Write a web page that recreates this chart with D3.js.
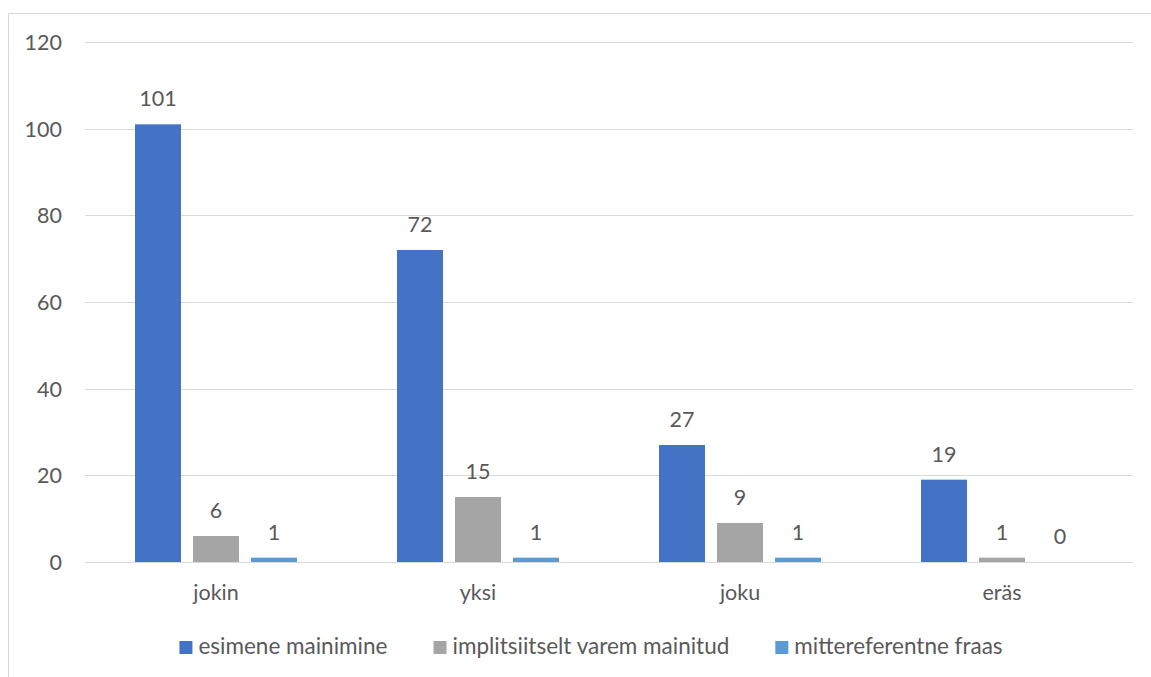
<!DOCTYPE html>
<html>
<head>
<meta charset="utf-8">
<script src="https://cdn.jsdelivr.net/npm/d3@7"></script>
<style>
  html, body { margin: 0; padding: 0; background: #fff; }
  svg { display: block; }
  text { font-family: Lato, "Open Sans", sans-serif; fill: #595959; }
</style>
</head>
<body>
<svg id="chart" width="1151" height="677"></svg>
<script>
// Data
const categories = ["jokin", "yksi", "joku", "eräs"];
const seriesNames = ["esimene mainimine", "implitsiitselt varem mainitud", "mittereferentne fraas"];
const esimene = [101, 72, 27, 19];
const implitsiitselt = [6, 15, 9, 1];
const mittereferentne = [1, 1, 1, 0];
const yTicks = [0, 20, 40, 60, 80, 100, 120];
const colors = ["#4472C4", "#A5A5A5", "#5B9BD5"];

const seriesValues = [esimene, implitsiitselt, mittereferentne];

const svg = d3.select("#chart");
const W = 1151, H = 677;
const labelSize = "21.5px";
const legendSize = "22.5px";

// Outer frame of the chart area
svg.append("path")
  .attr("d", `M8.5,${H} V13.5 H${W}`)
  .attr("fill", "none")
  .attr("stroke", "#D9D9D9")
  .attr("stroke-width", 1);

const plot = { left: 85, right: 1133, top: 42, bottom: 562 };

const x0 = d3.scaleBand()
  .domain(categories)
  .range([plot.left, plot.right])
  .paddingInner(0)
  .paddingOuter(0);

const groupInset = 50;
const x1 = d3.scaleBand()
  .domain(d3.range(seriesNames.length))
  .range([groupInset, x0.bandwidth() - groupInset])
  .paddingInner(12 / 58)
  .paddingOuter(0);

const y = d3.scaleLinear().domain([0, 120]).range([plot.bottom, plot.top]);

// Gridlines
svg.append("g")
  .selectAll("line")
  .data(yTicks)
  .join("line")
  .attr("x1", plot.left)
  .attr("x2", plot.right)
  .attr("y1", d => Math.round(y(d)) + 0.5)
  .attr("y2", d => Math.round(y(d)) + 0.5)
  .attr("stroke", "#D9D9D9")
  .attr("stroke-width", 1);

// Y axis labels
const yAxis = d3.axisLeft(y).tickValues(yTicks).tickSize(0).tickPadding(23);
const gy = svg.append("g")
  .attr("transform", `translate(${plot.left},0)`)
  .call(yAxis);
gy.select(".domain").remove();
gy.selectAll("text")
  .attr("font-size", labelSize)
  .attr("font-family", "Lato, sans-serif")
  .attr("fill", "#595959")
  .attr("dy", "0.35em");

// Bars
const groups = svg.append("g")
  .selectAll("g")
  .data(categories)
  .join("g")
  .attr("transform", d => `translate(${x0(d)},0)`);

groups.selectAll("rect")
  .data((c, i) => seriesValues.map((vals, s) => ({ s, v: vals[i] })))
  .join("rect")
  .attr("x", d => x1(d.s))
  .attr("width", x1.bandwidth())
  .attr("y", d => y(d.v))
  .attr("height", d => y(0) - y(d.v))
  .attr("fill", d => colors[d.s]);

// Value labels
groups.selectAll("text")
  .data((c, i) => seriesValues.map((vals, s) => ({ s, v: vals[i] })))
  .join("text")
  .attr("x", d => x1(d.s) + x1.bandwidth() / 2)
  .attr("y", d => y(d.v) - 18)
  .attr("text-anchor", "middle")
  .attr("font-size", labelSize)
  .text(d => d.v);

// Category axis
const xAxis = d3.axisBottom(x0).tickSize(0).tickPadding(0);
const gx = svg.append("g")
  .attr("transform", `translate(0,${plot.bottom})`)
  .call(xAxis);
gx.select(".domain").remove();
gx.selectAll("text")
  .attr("font-size", labelSize)
  .attr("font-family", "Lato, sans-serif")
  .attr("fill", "#595959")
  .attr("dy", null)
  .attr("y", 38);

// Legend
const legend = svg.append("g");
const items = legend.selectAll("g")
  .data(seriesNames)
  .join("g");
items.append("rect")
  .attr("width", 13)
  .attr("height", 13)
  .attr("y", 641)
  .attr("fill", (d, i) => colors[i]);
items.append("text")
  .attr("x", 19)
  .attr("y", 654)
  .attr("font-size", legendSize)
  .text(d => d);

// Place items left to right, centred under the plot
let offset = 0;
const gap = 46;
const widths = [];
items.each(function () {
  widths.push(this.getBBox().width);
});
const total = d3.sum(widths) + gap * (widths.length - 1);
const start = 591 - total / 2;
items.attr("transform", (d, i) => {
  const t = `translate(${start + offset},0)`;
  offset += widths[i] + gap;
  return t;
});
</script>
</body>
</html>
